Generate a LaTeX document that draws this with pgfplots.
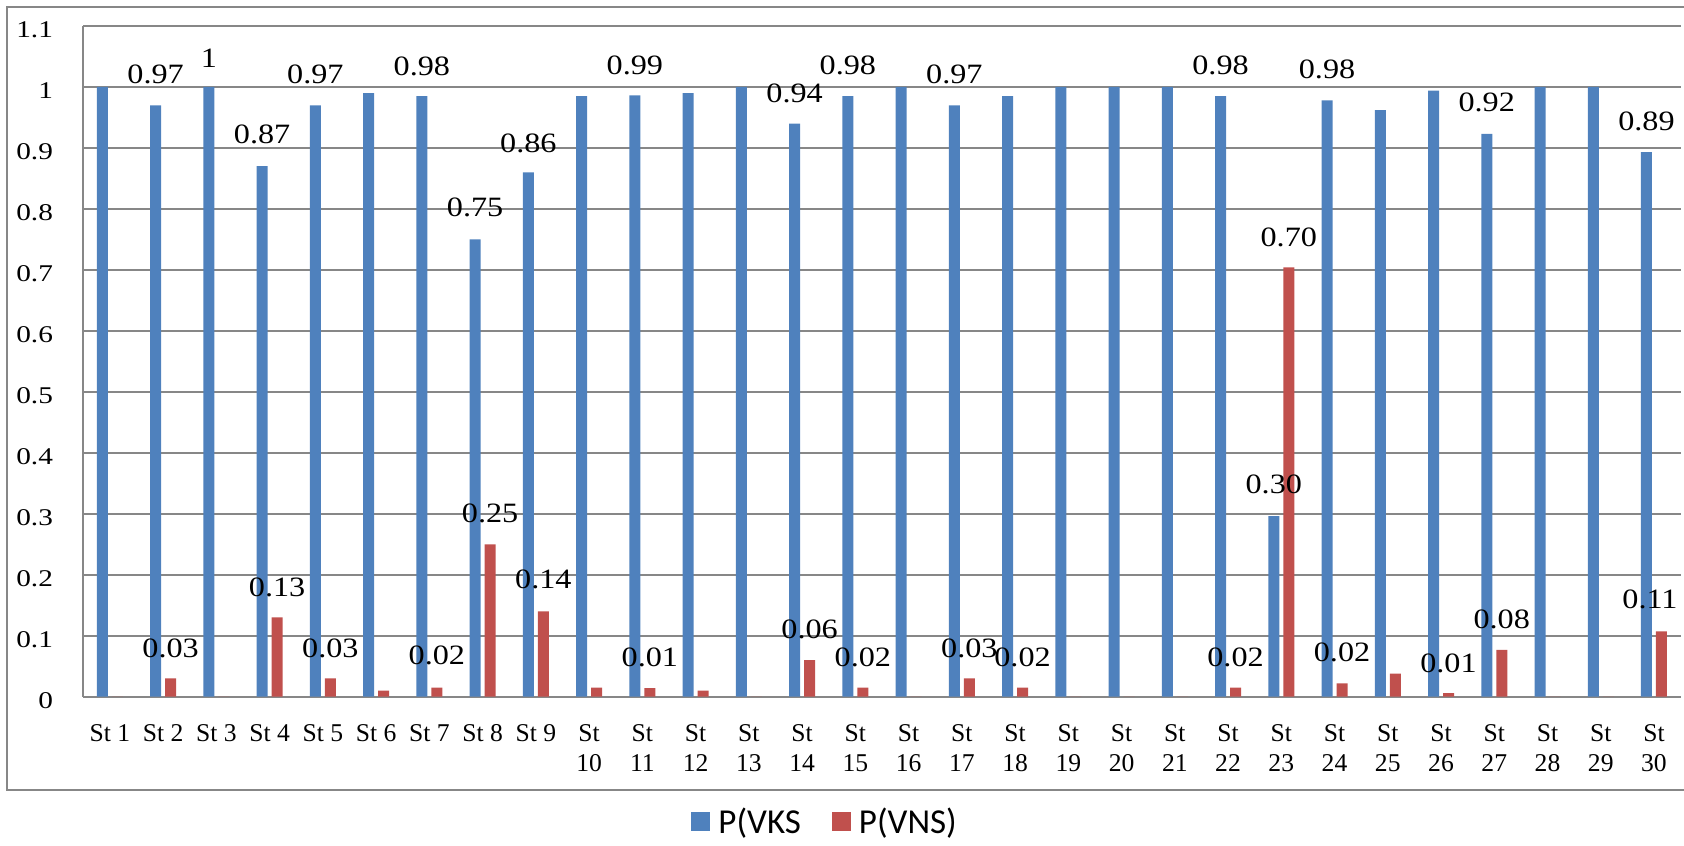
\documentclass[border=0pt]{standalone}
\usepackage{pgfplots}
\pgfplotsset{compat=1.18}
\usepackage{graphicx}
\usepackage{fontspec}
\setmainfont{Liberation Serif}
\newfontfamily\legfont{Carlito}
\definecolor{vks}{HTML}{4F81BD}
\definecolor{vns}{HTML}{C0504D}
\definecolor{gridc}{HTML}{878787}
\newcommand{\lab}[1]{\scalebox{1.15}[1]{#1}}
\newcommand{\tk}[1]{\scalebox{1.22}[1]{#1}}
\tikzset{dl/.style={font=\fontsize{14}{16}\selectfont, inner sep=0pt, anchor=center},
  bl/.style={dl, xshift=-3.75pt}, rl/.style={dl, xshift=3.75pt}}
\begin{document}
\begin{tikzpicture}
\useasboundingbox (-41.65pt,-74.15pt) rectangle (800.35pt,348.35pt);
\begin{axis}[
  at={(0pt,0pt)}, anchor=south west,
  scale only axis, width=798.65pt, height=335.35pt,
  xmin=0.5, xmax=30.5, ymin=0, ymax=1.1,
  ybar=2pt, bar width=5.5pt,
  xtick={1,...,30},
  xticklabels={St 1,St 2,St 3,St 4,St 5,St 6,St 7,St 8,St 9,{St\\10},{St\\11},{St\\12},{St\\13},{St\\14},{St\\15},{St\\16},{St\\17},{St\\18},{St\\19},{St\\20},{St\\21},{St\\22},{St\\23},{St\\24},{St\\25},{St\\26},{St\\27},{St\\28},{St\\29},{St\\30}},
  ytick={0,0.1,0.2,0.3,0.4,0.5,0.6,0.7,0.8,0.9,1,1.1},
  yticklabels={\tk{0},\tk{0.1},\tk{0.2},\tk{0.3},\tk{0.4},\tk{0.5},\tk{0.6},\tk{0.7},\tk{0.8},\tk{0.9},\tk{1},\tk{1.1}},
  major tick length=0pt,
  axis x line=bottom, axis y line=left,
  axis line style={-, draw=gridc, line width=0.8pt},
  ymajorgrids, grid style={draw=gridc, line width=0.8pt},
  xticklabel style={anchor=north, inner sep=0pt, yshift=-13.5pt, align=center, font=\fontsize{12.8}{15}\selectfont},
  yticklabel style={anchor=east, inner sep=0pt, xshift=-15pt, yshift=-2pt, font=\fontsize{12}{14}\selectfont},
  clip=false,
  legend style={draw=none, fill=none, at={(0.4638,-0.1868)}, anchor=center,
    legend columns=2, font=\legfont\fontsize{17.5}{19}\selectfont,
    /tikz/every even column/.append style={column sep=15.5pt},
    /tikz/every odd column/.append style={column sep=4pt},
    nodes={inner sep=0pt}},
  legend image code/.code={\fill[#1] (0pt,-4.75pt) rectangle (9.5pt,4.75pt);},
]
\addplot[fill=vks, draw=none] coordinates {
(1,1.0) (2,0.97) (3,1.0) (4,0.87) (5,0.97) (6,0.99) (7,0.985) (8,0.75) (9,0.86) (10,0.985)
(11,0.986) (12,0.99) (13,1.0) (14,0.94) (15,0.985) (16,1.0) (17,0.97) (18,0.985) (19,1.0) (20,1.0)
(21,1.0) (22,0.985) (23,0.296) (24,0.978) (25,0.962) (26,0.994) (27,0.923) (28,1.0) (29,1.0) (30,0.893)};
\addlegendentry{P(VKS}
\addplot[fill=vns, draw=none] coordinates {
(1,0) (2,0.03) (3,0) (4,0.13) (5,0.03) (6,0.01) (7,0.015) (8,0.25) (9,0.14) (10,0.015)
(11,0.014) (12,0.01) (13,0) (14,0.06) (15,0.015) (16,0) (17,0.03) (18,0.015) (19,0) (20,0)
(21,0) (22,0.015) (23,0.704) (24,0.022) (25,0.038) (26,0.006) (27,0.077) (28,0) (29,0) (30,0.107)};
\addlegendentry{P(VNS)}
% blue labels
\node[bl] at (axis cs:2,1.021) {\lab{0.97}};
\node[bl] at (axis cs:3,1.047) {\lab{1}};
\node[bl] at (axis cs:4,0.923) {\lab{0.87}};
\node[bl] at (axis cs:5,1.021) {\lab{0.97}};
\node[bl] at (axis cs:7,1.034) {\lab{0.98}};
\node[bl] at (axis cs:8,0.803) {\lab{0.75}};
\node[bl] at (axis cs:9,0.908) {\lab{0.86}};
\node[bl] at (axis cs:11,1.036) {\lab{0.99}};
\node[bl] at (axis cs:14,0.990) {\lab{0.94}};
\node[bl] at (axis cs:15,1.036) {\lab{0.98}};
\node[bl] at (axis cs:17,1.021) {\lab{0.97}};
\node[bl] at (axis cs:22,1.036) {\lab{0.98}};
\node[bl] at (axis cs:23,0.349) {\lab{0.30}};
\node[bl] at (axis cs:24,1.029) {\lab{0.98}};
\node[bl] at (axis cs:27,0.975) {\lab{0.92}};
\node[bl] at (axis cs:30,0.944) {\lab{0.89}};
% red labels
\node[rl] at (axis cs:2,0.080) {\lab{0.03}};
\node[rl] at (axis cs:4,0.180) {\lab{0.13}};
\node[rl] at (axis cs:5,0.080) {\lab{0.03}};
\node[rl] at (axis cs:7,0.067) {\lab{0.02}};
\node[rl] at (axis cs:8,0.300) {\lab{0.25}};
\node[rl] at (axis cs:9,0.193) {\lab{0.14}};
\node[rl] at (axis cs:11,0.065) {\lab{0.01}};
\node[rl] at (axis cs:14,0.111) {\lab{0.06}};
\node[rl] at (axis cs:15,0.065) {\lab{0.02}};
\node[rl] at (axis cs:17,0.080) {\lab{0.03}};
\node[rl] at (axis cs:18,0.065) {\lab{0.02}};
\node[rl] at (axis cs:22,0.065) {\lab{0.02}};
\node[rl] at (axis cs:23,0.754) {\lab{0.70}};
\node[rl] at (axis cs:24,0.073) {\lab{0.02}};
\node[rl] at (axis cs:26,0.055) {\lab{0.01}};
\node[rl] at (axis cs:27,0.126) {\lab{0.08}};
\node[dl, xshift=-2pt] at (axis cs:30,0.159) {\lab{0.11}};
\end{axis}
\draw[gridc, line width=1pt] (-38.3pt,-46.65pt) rectangle (810pt,344.7pt);
\end{tikzpicture}
\end{document}
